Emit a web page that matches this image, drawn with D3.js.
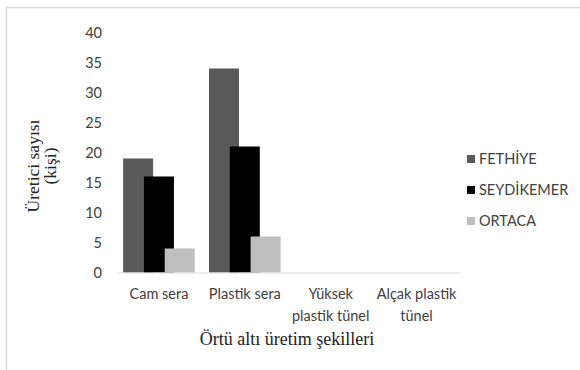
<!DOCTYPE html>
<html>
<head>
<meta charset="utf-8">
<script src="https://cdn.jsdelivr.net/npm/d3@7"></script>
<style>
  html, body { margin: 0; padding: 0; background: #fff; }
  svg { display: block; }
</style>
</head>
<body>
<svg id="chart" width="580" height="370"></svg>
<script>
// Producer counts by protected-cultivation type and district
const categories = [["Cam sera"], ["Plastik sera"], ["Yüksek", "plastik tünel"], ["Alçak plastik", "tünel"]];
const categoryKeys = ["Cam sera", "Plastik sera", "Yüksek plastik tünel", "Alçak plastik tünel"];
const seriesNames = ["FETHİYE", "SEYDİKEMER", "ORTACA"];
const fethiye = [19, 34, 0, 0];
const seydikemer = [16, 21, 0, 0];
const ortaca = [4, 6, 0, 0];
const yTicks = [0, 5, 10, 15, 20, 25, 30, 35, 40];
const seriesColors = ["#595959", "#000000", "#bfbfbf"];

const seriesValues = [fethiye, seydikemer, ortaca];

const svg = d3.select("#chart");
const sansFont = "Lato, 'Open Sans', sans-serif";
const serifFont = "'Liberation Serif', 'Times New Roman', serif";

// Chart frame
svg.append("path")
  .attr("d", "M6.5,370 L6.5,7.5 L580,7.5")
  .attr("fill", "none")
  .attr("stroke", "#d9d9d9")
  .attr("stroke-width", 1.5);

const plot = { left: 116, right: 459.5, top: 32.5, bottom: 272.5 };

const x = d3.scaleBand()
  .domain(categoryKeys)
  .range([plot.left, plot.right])
  .padding(0);

const y = d3.scaleLinear()
  .domain([0, 40])
  .range([plot.bottom, plot.top]);

// Overlapping clustered bars: offset of each series' bar centre within its band
const barWidth = 30;
const offset = d3.scalePoint()
  .domain(seriesNames)
  .range([-20.8, 20.8]);

seriesNames.forEach((name, si) => {
  svg.append("g")
    .selectAll("rect")
    .data(seriesValues[si].map((v, i) => ({ key: categoryKeys[i], v })))
    .join("rect")
    .filter(d => d.v > 0)
    .attr("x", d => x(d.key) + x.bandwidth() / 2 + offset(name) - barWidth / 2)
    .attr("y", d => y(d.v))
    .attr("width", barWidth)
    .attr("height", d => y(0) - y(d.v))
    .attr("fill", seriesColors[si]);
});

// Y axis labels (no axis line, no gridlines)
const yAxis = d3.axisLeft(y).tickValues(yTicks).tickSize(0).tickPadding(0);
const yG = svg.append("g")
  .attr("transform", `translate(${102},0)`)
  .call(yAxis);
yG.select(".domain").remove();
yG.selectAll("text")
  .attr("font-family", sansFont)
  .attr("font-size", 14.5)
  .attr("fill", "#404040");

// Horizontal category axis
const xAxis = d3.axisBottom(x).tickSize(0).tickFormat(() => "");
const xG = svg.append("g")
  .attr("transform", `translate(0,${plot.bottom})`)
  .call(xAxis);
xG.select(".domain")
  .attr("stroke", "#d9d9d9")
  .attr("stroke-width", 1.2);

// Wrapped category labels
svg.append("g")
  .selectAll("text")
  .data(categories.map((lines, i) => ({ key: categoryKeys[i], lines })))
  .join("text")
  .attr("text-anchor", "middle")
  .attr("font-family", sansFont)
  .attr("font-size", 14.5)
  .attr("fill", "#404040")
  .each(function (d) {
    d3.select(this).selectAll("tspan")
      .data(d.lines)
      .join("tspan")
      .attr("x", x(d.key) + x.bandwidth() / 2)
      .attr("y", (l, j) => 299 + j * 21.5)
      .text(l => l);
  });

// Axis titles
svg.append("text")
  .attr("x", 287)
  .attr("y", 345)
  .attr("text-anchor", "middle")
  .attr("font-family", serifFont)
  .attr("font-size", 18)
  .attr("fill", "#222")
  .text("Örtü altı üretim şekilleri");

const yTitle = svg.append("text")
  .attr("transform", "translate(39,166) rotate(-90)")
  .attr("text-anchor", "middle")
  .attr("font-family", serifFont)
  .attr("font-size", 17.5)
  .attr("fill", "#222");
yTitle.append("tspan").attr("x", 0).attr("y", 0).text("Üretici sayısı");
yTitle.append("tspan").attr("x", 0).attr("y", 17).text("(kişi)");

// Legend
const legend = svg.append("g")
  .selectAll("g")
  .data(seriesNames)
  .join("g")
  .attr("transform", (d, i) => `translate(467,${159 + i * 31})`);
legend.append("rect")
  .attr("x", 0)
  .attr("y", -4)
  .attr("width", 8)
  .attr("height", 8)
  .attr("fill", (d, i) => seriesColors[i]);
legend.append("text")
  .attr("x", 12)
  .attr("y", 0)
  .attr("dy", "0.35em")
  .attr("font-family", sansFont)
  .attr("font-size", 14.5)
  .attr("fill", "#404040")
  .text(d => d);
</script>
</body>
</html>
